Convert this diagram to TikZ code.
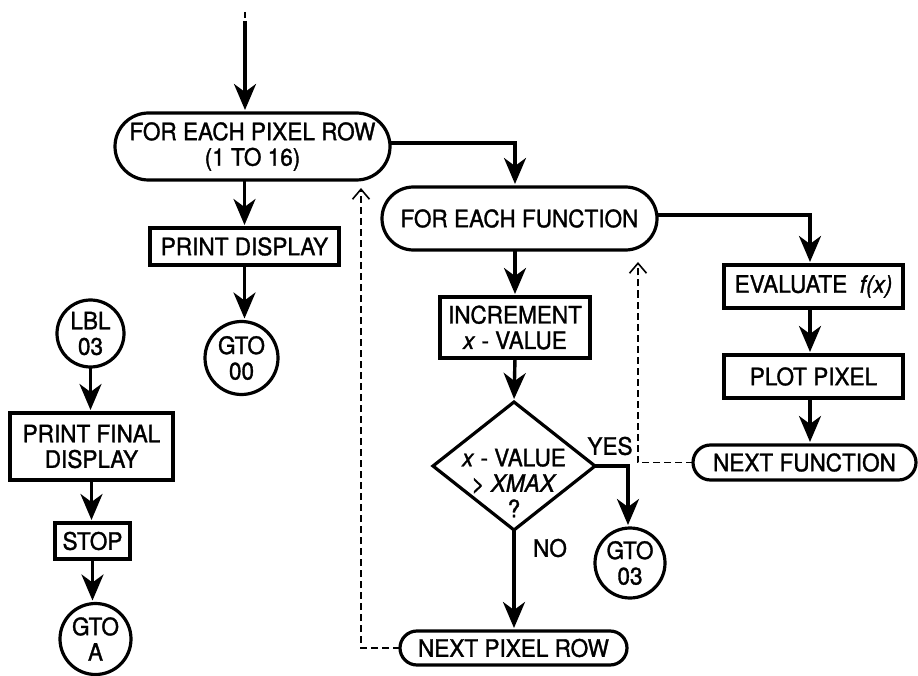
\documentclass[tikz,border=0pt]{standalone}
\usepackage{fontspec}
\setmainfont{TeX Gyre Heros}[RawFeature={embolden=1.3;extend=0.94}]
\usetikzlibrary{shapes.misc,shapes.geometric,arrows.meta,calc}
\begin{document}
\begin{tikzpicture}[x=1pt,y=-1pt,
  every node/.style={inner sep=0pt,outer sep=0pt,font=\fontsize{24}{25.5}\selectfont,align=center},
  term/.style={draw,rounded rectangle,line width=3.2pt},
  boxnode/.style={draw,rectangle,line width=3.4pt},
  conn/.style={draw,circle,line width=3.2pt},
  decision/.style={draw,diamond,line width=3.2pt},
  flow/.style={line width=3.4pt,-{Stealth[length=26pt,width=22pt,inset=8pt]},shorten >=3pt},
  back/.style={line width=1.4pt,dash pattern=on 7pt off 4pt,-{Straight Barb[length=10pt,width=17pt,line width=1.6pt]}}]
\useasboundingbox (0,0) rectangle (918,676);
% nodes
\node[term,minimum width=275pt,minimum height=67pt] (t1) at (252.5,146.5) {FOR EACH PIXEL ROW\\(1 TO 16)};
\node[boxnode,minimum width=189pt,minimum height=37pt] (pd) at (244.5,246.5) {PRINT DISPLAY};
\node[conn,minimum size=73pt] (g00) at (241.5,358) {GTO\\00};
\node[conn,minimum size=67pt] (lbl) at (90.5,333.5) {LBL\\03};
\node[boxnode,minimum width=163pt,minimum height=67pt] (pfd) at (91.5,446.5) {PRINT FINAL\\DISPLAY};
\node[boxnode,minimum width=75pt,minimum height=36pt] (stop) at (92.5,541) {STOP};
\node[conn,minimum size=71pt] (ga) at (95.5,639) {GTO\\A};
\node[term,minimum width=275pt,minimum height=63pt] (t2) at (519.5,218.5) {FOR EACH FUNCTION};
\node[boxnode,minimum width=150pt,minimum height=61pt] (inc) at (515,327.5) {INCREMENT\\\textit{x} - VALUE};
\node[decision,minimum width=162pt,minimum height=128pt] (dia) at (514,466) {};
\node (diatext) at (514,483) {\textit{x} - VALUE\\> \textit{XMAX}\\?};
\node[conn,minimum size=70pt] (g03) at (630,563) {GTO\\03};
\node[term,minimum width=227pt,minimum height=34pt] (npr) at (513.5,648) {NEXT PIXEL ROW};
\node[boxnode,minimum width=179pt,minimum height=43pt] (ev) at (813.5,286.5) {EVALUATE\ \ \textit{f(x)}};
\node[boxnode,minimum width=179pt,minimum height=43pt] (pp) at (813.5,376.5) {PLOT PIXEL};
\node[term,minimum width=223pt,minimum height=35pt] (nf) at (804.5,462.5) {NEXT FUNCTION};
\node (yes) at (610,446) {YES};
\node (no) at (550,548) {NO};
% entry
\coordinate (d0) at (245,12);
\coordinate (d1) at (245,18);
\coordinate (in0) at (245,21);
\draw[line width=1.6pt] (d0) -- (d1);
\draw[flow] (in0) -- (in0 |- t1.north);
% connectors
\draw[flow] (t1.south -| pd.north) -- (pd.north);
\draw[flow] (pd.south) -- (pd.south |- g00.north);
\draw[flow] (lbl.south) -- (lbl.south |- pfd.north);
\draw[flow] (pfd.south) -- (pfd.south |- stop.north);
\draw[flow] (stop.south) -- (stop.south |- ga.north);
\draw[flow] ([yshift=3.5pt]t1.east) -| ([xshift=-4.5pt]t2.north);
\draw[flow] ([xshift=-4.5pt]t2.south) -- (inc.north);
\draw[flow] ([yshift=3.5pt]t2.east) -| ([xshift=-3.5pt]ev.north);
\draw[flow] ([xshift=-3.5pt]ev.south) -- ([xshift=-3.5pt]pp.north);
\draw[flow] ([xshift=-3.5pt]pp.south) -- ([xshift=-3.5pt]pp.south |- nf.north);
\draw[flow] (inc.south) -- (dia.north);
\draw[flow] (dia.east) -| ([xshift=-2pt]g03.north);
\draw[flow] (dia.south) -- (dia.south |- npr.north);
\draw[back,shorten >=8pt] (npr.west) -| ([xshift=108.5pt]t1.south);
\draw[back,shorten >=12pt] (nf.west) -| ([xshift=118.5pt]t2.south);
\end{tikzpicture}
\end{document}
